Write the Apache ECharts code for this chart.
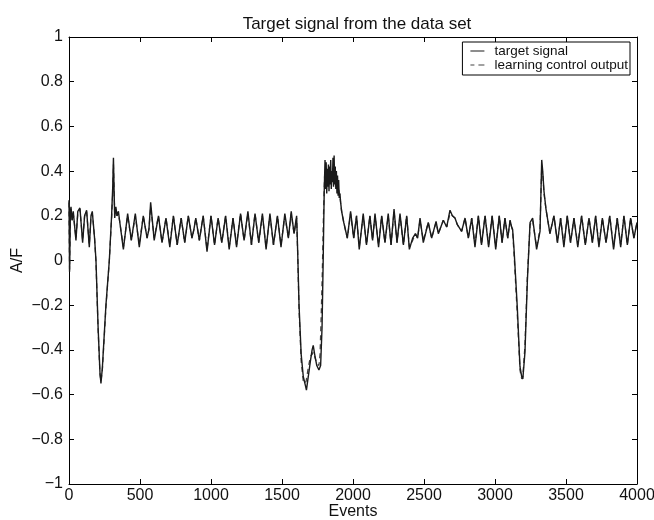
<!DOCTYPE html>
<html>
<head>
<meta charset="utf-8">
<script src="https://cdn.jsdelivr.net/npm/echarts@6/dist/echarts.min.js"></script>
<style>
html,body{margin:0;padding:0;background:#fff;}
#chart{width:654px;height:520px;}
</style>
</head>
<body>
<div id="chart"></div>
<script>
// ---- data ----
var titleText = 'Target signal from the data set';
var seriesNames = ['target signal', 'learning control output'];
var xTicks = [0, 500, 1000, 1500, 2000, 2500, 3000, 3500, 4000];
var yTicks = [-1, -0.8, -0.6, -0.4, -0.2, 0, 0.2, 0.4, 0.6, 0.8, 1];

// target signal: [event, A/F]
var targetSignal = [
  [0,0.27],[4,-0.05],[10,0.22],[14,0.24],[22,0.18],[30,0.22],[49,0.09],[62,0.22],[77,0.235],[96,0.08],
  [110,0.2],[124,0.225],[143,0.06],[155,0.2],[164,0.22],[172,0.16],[180,0.1],[190,0.0],[205,-0.3],[218,-0.5],
  [225,-0.55],[235,-0.48],[260,-0.2],[284,0.0],[300,0.2],[308,0.33],[313,0.46],[318,0.3],[322,0.19],[330,0.24],
  [338,0.2],[348,0.22],[358,0.17],[383,0.05],[413,0.21],[439,0.09],[467,0.21],[495,0.06],[523,0.2],[550,0.1],
  [563,0.14],[575,0.26],[600,0.09],[630,0.2],[655,0.08],[683,0.19],[710,0.06],[735,0.2],[762,0.07],[790,0.19],
  [815,0.08],[840,0.2],[866,0.1],[880,0.14],[893,0.19],[918,0.09],[945,0.2],[972,0.04],[1000,0.2],[1025,0.07],
  [1050,0.19],[1076,0.08],[1103,0.2],[1128,0.05],[1155,0.19],[1180,0.06],[1208,0.21],[1233,0.09],[1260,0.22],[1285,0.07],
  [1310,0.21],[1336,0.08],[1362,0.21],[1388,0.05],[1415,0.21],[1440,0.07],[1468,0.2],[1493,0.06],[1520,0.21],[1545,0.1],
  [1565,0.22],[1585,0.12],[1603,0.2],[1610,0.05],[1620,-0.2],[1635,-0.42],[1650,-0.52],[1665,-0.56],[1672,-0.58],[1685,-0.52],
  [1700,-0.45],[1712,-0.4],[1720,-0.38],[1730,-0.42],[1745,-0.47],[1760,-0.49],[1772,-0.47],[1782,-0.3],[1790,0.0],[1797,0.3],
  [1803,0.45],[1807,0.32],[1811,0.44],[1815,0.3],[1819,0.41],[1823,0.33],[1827,0.43],[1831,0.31],[1835,0.42],[1839,0.34],
  [1843,0.45],[1847,0.32],[1851,0.4],[1855,0.35],[1859,0.46],[1863,0.33],[1867,0.47],[1871,0.34],[1875,0.42],[1879,0.32],
  [1883,0.4],[1887,0.3],[1891,0.38],[1895,0.29],[1899,0.36],[1903,0.28],[1908,0.3],[1913,0.26],[1920,0.22],[1935,0.17],
  [1960,0.1],[1983,0.22],[2005,0.1],[2025,0.2],[2044,0.05],[2072,0.21],[2095,0.07],[2119,0.2],[2138,0.09],[2155,0.21],
  [2180,0.06],[2202,0.2],[2225,0.08],[2248,0.21],[2268,0.07],[2289,0.23],[2310,0.08],[2331,0.21],[2355,0.07],[2378,0.2],
  [2397,0.05],[2420,0.1],[2440,0.12],[2455,0.1],[2472,0.19],[2495,0.08],[2530,0.17],[2554,0.1],[2585,0.175],[2601,0.12],
  [2636,0.18],[2660,0.15],[2683,0.225],[2700,0.2],[2718,0.19],[2735,0.16],[2765,0.13],[2789,0.19],[2812,0.1],[2836,0.19],
  [2859,0.06],[2883,0.2],[2905,0.07],[2930,0.2],[2955,0.06],[2980,0.2],[3005,0.05],[3030,0.2],[3050,0.08],[3070,0.19],
  [3090,0.1],[3106,0.18],[3117,0.15],[3124,0.14],[3134,0.05],[3157,-0.21],[3176,-0.475],[3188,-0.52],[3196,-0.53],[3211,-0.41],
  [3228,-0.09],[3247,0.17],[3265,0.19],[3293,0.05],[3317,0.13],[3329,0.45],[3336,0.4],[3345,0.31],[3359,0.23],[3387,0.12],
  [3415,0.2],[3440,0.08],[3462,0.19],[3485,0.06],[3509,0.2],[3532,0.08],[3556,0.19],[3583,0.06],[3610,0.2],[3636,0.07],
  [3662,0.19],[3686,0.08],[3709,0.2],[3732,0.06],[3756,0.19],[3782,0.08],[3808,0.2],[3835,0.05],[3861,0.19],[3885,0.06],
  [3908,0.2],[3932,0.07],[3955,0.19],[3978,0.1],[4000,0.17]
];

// learning control output: [event, A/F]
var learningOutput = [
  [0,0.26],[4,-0.04],[10,0.21],[14,0.23],[22,0.18],[30,0.21],[49,0.1],[62,0.21],[77,0.23],[96,0.09],
  [110,0.2],[124,0.22],[143,0.07],[155,0.2],[164,0.21],[172,0.16],[180,0.1],[190,-0.01],[205,-0.31],[218,-0.51],
  [225,-0.54],[235,-0.49],[260,-0.21],[284,0.0],[300,0.19],[308,0.3],[313,0.43],[318,0.3],[322,0.2],[330,0.23],
  [338,0.2],[348,0.21],[358,0.17],[383,0.06],[413,0.2],[439,0.09],[467,0.2],[495,0.07],[523,0.2],[550,0.1],
  [563,0.14],[575,0.24],[600,0.1],[630,0.2],[655,0.08],[683,0.19],[710,0.07],[735,0.2],[762,0.07],[790,0.19],
  [815,0.08],[840,0.2],[866,0.1],[880,0.14],[893,0.19],[918,0.09],[945,0.2],[972,0.05],[1000,0.2],[1025,0.07],
  [1050,0.19],[1076,0.08],[1103,0.2],[1128,0.06],[1155,0.19],[1180,0.07],[1208,0.21],[1233,0.09],[1260,0.21],[1285,0.07],
  [1310,0.21],[1336,0.08],[1362,0.2],[1388,0.06],[1415,0.2],[1440,0.07],[1468,0.2],[1493,0.07],[1520,0.2],[1545,0.1],
  [1565,0.21],[1585,0.12],[1603,0.19],[1610,0.04],[1620,-0.22],[1635,-0.45],[1650,-0.54],[1660,-0.55],[1670,-0.54],[1685,-0.48],
  [1700,-0.43],[1712,-0.42],[1720,-0.41],[1730,-0.43],[1745,-0.46],[1760,-0.47],[1768,-0.42],[1776,-0.25],[1784,-0.05],[1792,0.2],
  [1800,0.38],[1815,0.38],[1830,0.37],[1850,0.38],[1866,0.4],[1885,0.36],[1905,0.3],[1920,0.22],[1935,0.17],
  [1960,0.1],[1983,0.21],[2005,0.1],[2025,0.2],[2044,0.06],[2072,0.2],[2095,0.07],[2119,0.2],[2138,0.09],[2155,0.2],
  [2180,0.07],[2202,0.2],[2225,0.08],[2248,0.2],[2268,0.07],[2289,0.22],[2310,0.08],[2331,0.2],[2355,0.07],[2378,0.2],
  [2397,0.06],[2420,0.09],[2440,0.12],[2455,0.1],[2472,0.18],[2495,0.09],[2530,0.17],[2554,0.1],[2585,0.17],[2601,0.12],
  [2636,0.18],[2660,0.15],[2683,0.21],[2700,0.2],[2718,0.19],[2735,0.16],[2765,0.13],[2789,0.19],[2812,0.1],[2836,0.19],
  [2859,0.07],[2883,0.2],[2905,0.07],[2930,0.2],[2955,0.07],[2980,0.2],[3005,0.06],[3030,0.2],[3050,0.08],[3070,0.19],
  [3090,0.1],[3106,0.18],[3117,0.15],[3124,0.13],[3134,0.03],[3157,-0.24],[3176,-0.49],[3188,-0.53],[3196,-0.52],[3211,-0.38],
  [3228,-0.07],[3247,0.16],[3265,0.18],[3293,0.06],[3317,0.14],[3329,0.42],[3336,0.39],[3345,0.3],[3359,0.23],[3387,0.12],
  [3415,0.2],[3440,0.08],[3462,0.19],[3485,0.07],[3509,0.2],[3532,0.08],[3556,0.19],[3583,0.07],[3610,0.2],[3636,0.07],
  [3662,0.19],[3686,0.08],[3709,0.2],[3732,0.07],[3756,0.19],[3782,0.08],[3808,0.2],[3835,0.06],[3861,0.19],[3885,0.07],
  [3908,0.2],[3932,0.07],[3955,0.19],[3978,0.1],[4000,0.17]
];

// ---- chart ----
var FONT = '"Liberation Sans", Arial, Helvetica, sans-serif';
function fmtTick(v) {
  var r = Math.round(v * 10) / 10;
  return String(r).replace('-', '\u2212');
}
var axisLineStyle = {show: true, onZero: false, lineStyle: {color: '#000', width: 1}};
var tickStyle = {show: true, inside: true, length: 5, lineStyle: {color: '#000', width: 1}};
var solidIcon = 'path://M0,0h14v1h-14z';
var dashIcon = 'path://M0,0h4v1h-4zM8,0h6v1h-6z';

var chart = echarts.init(document.getElementById('chart'), null, {renderer: 'canvas'});
chart.setOption({
  animation: false,
  backgroundColor: '#fff',
  title: {
    text: titleText,
    left: 352, textAlign: 'center', top: 11,
    textStyle: {fontFamily: FONT, fontSize: 17, fontWeight: 'normal', color: '#111'}
  },
  legend: {
    data: [
      {name: seriesNames[0], icon: solidIcon},
      {name: seriesNames[1], icon: dashIcon}
    ],
    orient: 'vertical',
    right: 24, top: 42,
    itemWidth: 14, itemHeight: 1.2, itemGap: 0,
    padding: [2, 2, 3, 8],
    borderColor: '#000', borderWidth: 1,
    backgroundColor: '#fff',
    textStyle: {fontFamily: FONT, fontSize: 13.5, lineHeight: 13, color: '#111', padding: [0, 0, 0, 5]}
  },
  grid: {left: 69, right: 17, top: 37, bottom: 36, containLabel: false, outerBoundsMode: 'none'},
  xAxis: [{
    type: 'value', min: xTicks[0], max: xTicks[xTicks.length - 1], interval: 500,
    position: 'bottom',
    axisLine: axisLineStyle, axisTick: tickStyle, splitLine: {show: false},
    axisLabel: {color: '#111', fontFamily: FONT, fontSize: 16, margin: 4, formatter: fmtTick},
    name: 'Events', nameLocation: 'middle', nameGap: 28, nameMoveOverlap: false,
    nameTextStyle: {color: '#111', fontFamily: FONT, fontSize: 16, verticalAlign: 'middle'}
  }, {
    type: 'value', min: xTicks[0], max: xTicks[xTicks.length - 1], interval: 500,
    position: 'top',
    axisLine: axisLineStyle, axisTick: tickStyle, splitLine: {show: false},
    axisLabel: {show: false}
  }],
  yAxis: [{
    type: 'value', min: yTicks[0], max: yTicks[yTicks.length - 1], interval: 0.2,
    position: 'left',
    axisLine: axisLineStyle, axisTick: tickStyle, splitLine: {show: false},
    axisLabel: {color: '#111', fontFamily: FONT, fontSize: 16, margin: 6, formatter: fmtTick},
    name: 'A/F', nameLocation: 'middle', nameGap: 51, nameRotate: 90, nameMoveOverlap: false,
    nameTextStyle: {color: '#111', fontFamily: FONT, fontSize: 16, verticalAlign: 'middle'}
  }, {
    type: 'value', min: yTicks[0], max: yTicks[yTicks.length - 1], interval: 0.2,
    position: 'right',
    axisLine: axisLineStyle, axisTick: tickStyle, splitLine: {show: false},
    axisLabel: {show: false}
  }],
  series: [{
    name: seriesNames[1], type: 'line', data: learningOutput,
    xAxisIndex: 0, yAxisIndex: 0, symbol: 'none', z: 2,
    lineStyle: {color: '#444', width: 1.3, type: [5, 4]},
    itemStyle: {color: '#444'}
  }, {
    name: seriesNames[0], type: 'line', data: targetSignal,
    xAxisIndex: 0, yAxisIndex: 0, symbol: 'none', z: 3,
    lineStyle: {color: '#1a1a1a', width: 1.4},
    itemStyle: {color: '#1a1a1a'}
  }]
});
</script>
</body>
</html>
